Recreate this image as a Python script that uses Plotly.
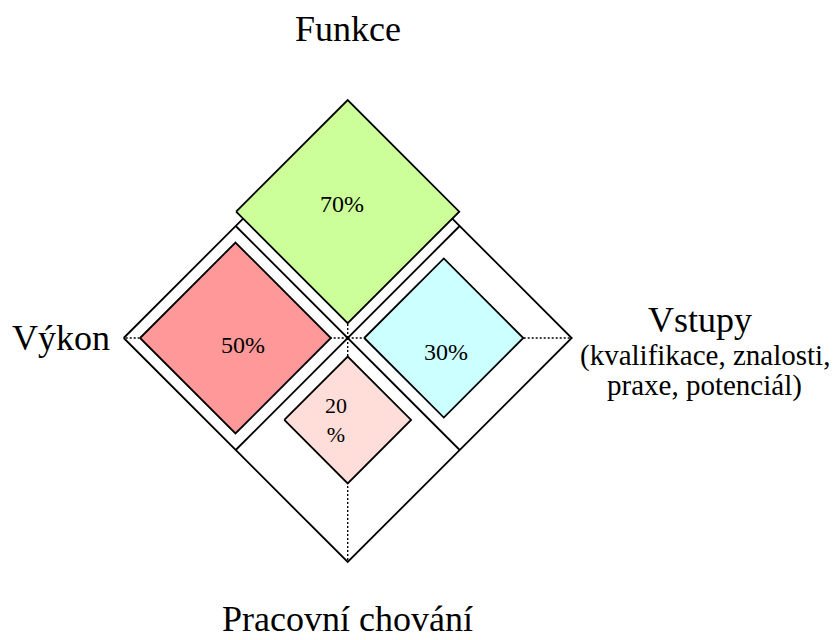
import plotly.graph_objects as go

# ---- data ----
categories = ["Funkce", "Výkon", "Vstupy", "Pracovní chování"]
values = [70, 50, 30, 20]
value_labels = ["70%", "50%", "30%", "20<br>%"]
subtitle_lines = ["(kvalifikace, znalosti,", "praxe, potenciál)"]

# ---- styles / layout constants ----
fill_colors = ["#CCFF99", "#FF9999", "#CCFFFF", "#FFDDD9"]
directions = [(0, 1), (-1, 0), (1, 0), (0, -1)]      # up, left, right, down
inner_gap = [0.066, 0.075, 0.074, 0.083]            # gap from centre to inner vertex
half_size = [0.498, 0.426, 0.355, 0.283]            # half-diagonal of each inner diamond
label_shift = [(-0.024, 0.036), (0.035, -0.030), (0.010, -0.062), (-0.052, 0.0)]
FONT = "Liberation Serif, Times New Roman, serif"
LW = 1.8

# page geometry (page has an 8px body margin)
PAGE_W, PAGE_H, BODY_M = 837, 640, 8
CX, CY, SCALE = 347.7, 338.0, 224.0   # page pixel of diagram centre, px per unit

fig = go.Figure()

def add_line(xs, ys, dash="solid", width=LW):
    fig.add_trace(go.Scatter(x=xs, y=ys, mode="lines",
                             line=dict(color="black", width=width, dash=dash),
                             hoverinfo="skip", showlegend=False))

# dotted axes from centre to each outer vertex
for dx, dy in directions:
    add_line([0, dx], [0, dy], dash="2px,2px", width=1.4)

# outer diamond
add_line([-1, 0, 1, 0, -1], [0, 1, 0, -1, 0])
# quadrant dividers
add_line([-0.5, 0.5], [0.5, -0.5])
add_line([0.5, -0.5], [0.5, -0.5])

# inner diamonds (draw the top one last so it covers the frame)
order = [1, 2, 3, 0]
for i in order:
    dx, dy = directions[i]
    d = inner_gap[i] + half_size[i]
    cx, cy = dx * d, dy * d
    h = half_size[i]
    fig.add_trace(go.Scatter(
        x=[cx - h, cx, cx + h, cx, cx - h],
        y=[cy, cy + h, cy, cy - h, cy],
        mode="lines", fill="toself", fillcolor=fill_colors[i],
        line=dict(color="black", width=LW),
        hoverinfo="skip", showlegend=False))
    fig.add_annotation(x=cx + label_shift[i][0], y=cy + label_shift[i][1],
                       text=value_labels[i], showarrow=False,
                       xanchor="center", yanchor="middle",
                       font=dict(family=FONT, size=24 if i != 3 else 22, color="black"))

# category titles
title_pos = [(0, 1.379), (-1.282, 0.002), (1.573, 0.080), (0, -1.254)]
for name, (tx, ty) in zip(categories, title_pos):
    fig.add_annotation(x=tx, y=ty, text=name, showarrow=False,
                       xanchor="center", yanchor="middle",
                       font=dict(family=FONT, size=36, color="black"))

sub_pos = [(1.595, -0.076), (1.595, -0.214)]
for line, (tx, ty) in zip(subtitle_lines, sub_pos):
    fig.add_annotation(x=tx, y=ty, text=line, showarrow=False,
                       xanchor="center", yanchor="middle",
                       font=dict(family=FONT, size=29, color="black"))

fig_w = PAGE_W - BODY_M
fig_h = PAGE_H - BODY_M
fig.update_layout(
    width=fig_w, height=fig_h,
    margin=dict(l=0, r=0, t=0, b=0),
    paper_bgcolor="white", plot_bgcolor="white",
    xaxis=dict(range=[(BODY_M - CX) / SCALE, (PAGE_W - CX) / SCALE],
               visible=False, fixedrange=True),
    yaxis=dict(range=[-(PAGE_H - CY) / SCALE, (CY - BODY_M) / SCALE],
               visible=False, fixedrange=True),
    showlegend=False,
)

fig.write_html("out.html", config={"displayModeBar": False})
